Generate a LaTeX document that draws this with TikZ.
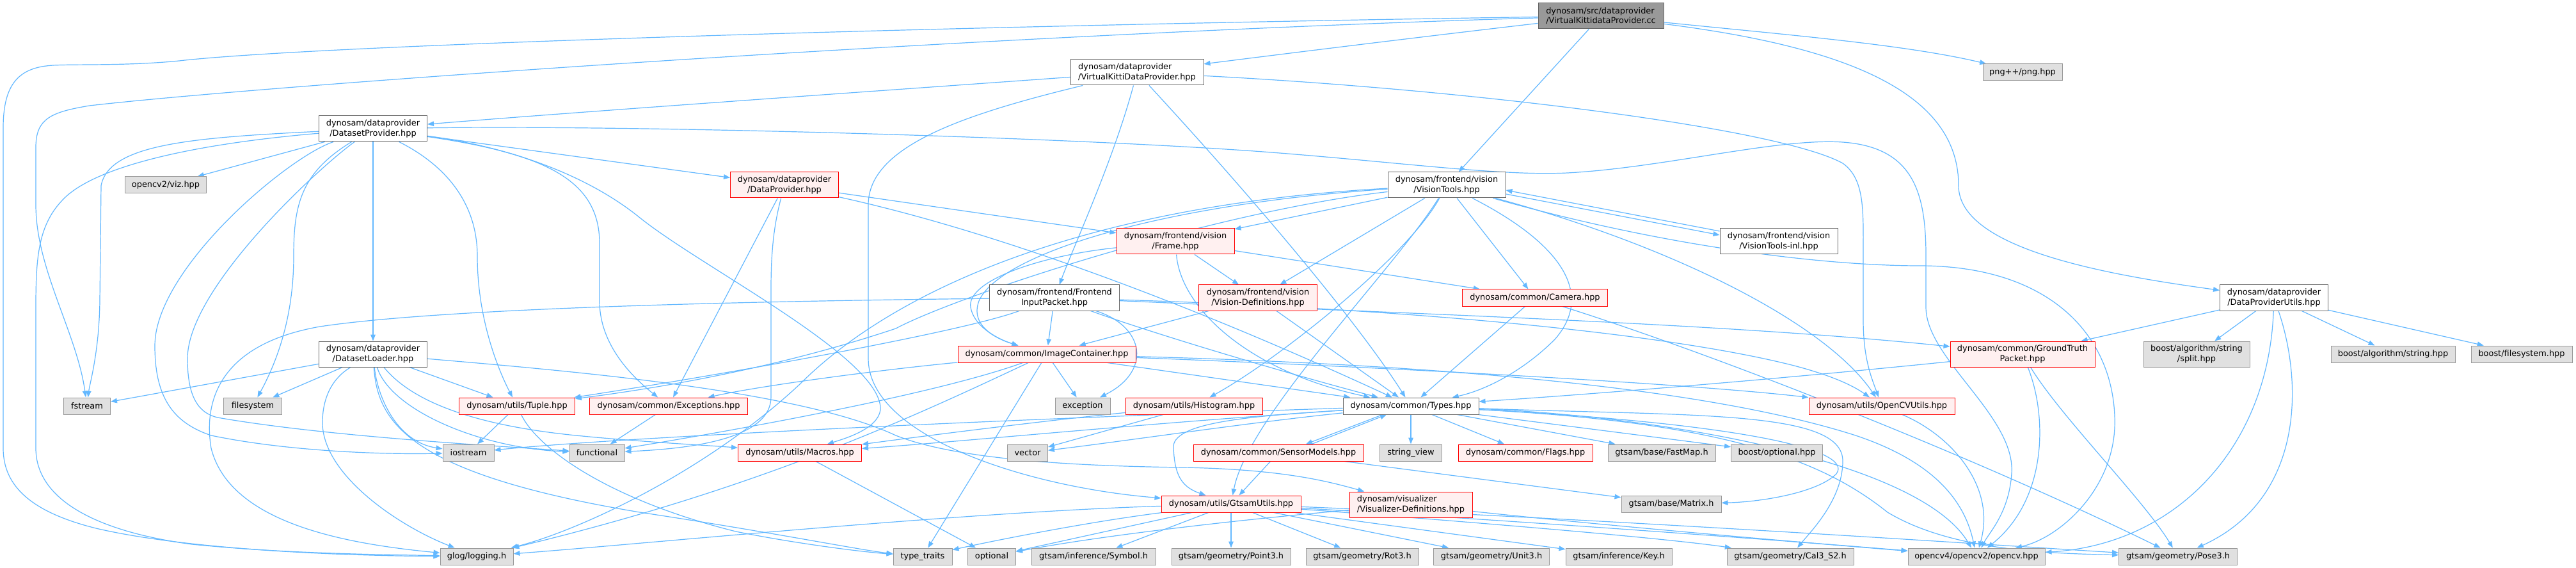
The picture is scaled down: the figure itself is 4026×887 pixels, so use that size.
\documentclass[tikz,border=0pt]{standalone}
\usepackage{fontspec}
\setmainfont{DejaVu Sans}
\usetikzlibrary{arrows.meta}
\definecolor{edgec}{HTML}{63B8FF}
\definecolor{redfill}{HTML}{FFF0F0}
\definecolor{grayfill}{HTML}{E0E0E0}
\definecolor{grayline}{HTML}{999999}
\definecolor{darkline}{HTML}{666666}
\definecolor{rootfill}{HTML}{999999}
\pgfdeclarelayer{back}
\pgfdeclarelayer{edges}
\pgfsetlayers{back,edges,main}
\begin{document}
\begin{tikzpicture}[x=0.5pt,y=-0.5pt,
  base/.style={rectangle, inner sep=0pt, font=\fontsize{6.45}{7.65}\selectfont, align=center, minimum height=13pt, line width=0.5pt},
  two/.style={minimum height=20pt},
  wn/.style={base, draw=darkline, fill=white},
  rn/.style={base, draw=red, fill=redfill},
  gn/.style={base, draw=grayline, fill=grayfill},
  rootn/.style={base, draw=darkline, fill=rootfill},
  ed/.style={draw=edgec, line width=0.6pt, -{Triangle[length=5pt,width=3.8pt]}}
]
\begin{pgfonlayer}{back}
\fill[white] (0,0) rectangle (4026,887);
\end{pgfonlayer}
\useasboundingbox (0,0) rectangle (4026,887);

\node[rootn,two,minimum width=98pt,align=left] (root) at (2502,25) {dynosam/src/dataprovider\\/VirtualKittidataProvider.cc};
\node[wn,two,minimum width=104pt,align=left] (VKDP) at (1777,113) {dynosam/dataprovider\\/VirtualKittiDataProvider.hpp};
\node[wn,two,minimum width=84.5pt] (DP) at (583,201) {dynosam/dataprovider\\/DatasetProvider.hpp};
\node[gn,minimum width=63.5pt] (viz) at (259,289) {opencv2/viz.hpp};
\node[rn,two,minimum width=84.5pt] (DPr) at (1226,289) {dynosam/dataprovider\\/DataProvider.hpp};
\node[wn,two,minimum width=92pt] (VT) at (2261,289) {dynosam/frontend/vision\\/VisionTools.hpp};
\node[wn,two,minimum width=92pt] (VTinl) at (2780,377) {dynosam/frontend/vision\\/VisionTools-inl.hpp};
\node[rn,two,minimum width=92pt] (Frame) at (1837,377) {dynosam/frontend/vision\\/Frame.hpp};
\node[gn,minimum width=62pt] (png) at (3161,113) {png++/png.hpp};
\node[wn,two,minimum width=84.5pt] (DPU) at (3554,465) {dynosam/dataprovider\\/DataProviderUtils.hpp};
\node[wn,two,minimum width=101.5pt] (FIP) at (1648,465) {dynosam/frontend/Frontend\\InputPacket.hpp};
\node[rn,two,minimum width=92.5pt] (VisDef) at (1966,465) {dynosam/frontend/vision\\/Vision-Definitions.hpp};
\node[rn,minimum width=113.5pt] (Camera) at (2399,465) {dynosam/common/Camera.hpp};
\node[wn,two,minimum width=84.5pt] (DL) at (583,553) {dynosam/dataprovider\\/DatasetLoader.hpp};
\node[rn,minimum width=139pt] (IC) at (1636,553) {dynosam/common/ImageContainer.hpp};
\node[rn,two,minimum width=113pt] (GTP) at (3161,553) {dynosam/common/GroundTruth\\Packet.hpp};
\node[gn,two,minimum width=83pt] (split) at (3433,553) {boost/algorithm/string\\/split.hpp};
\node[gn,minimum width=97pt] (balgo) at (3740,553) {boost/algorithm/string.hpp};
\node[gn,minimum width=79pt] (bfs) at (3941,553) {boost/filesystem.hpp};
\node[gn,minimum width=36.5pt] (fstream) at (136,634) {fstream};
\node[gn,minimum width=45.5pt] (filesystem) at (395,634) {filesystem};
\node[rn,minimum width=90.5pt] (Tuple) at (808,634) {dynosam/utils/Tuple.hpp};
\node[rn,minimum width=123.5pt] (Exc) at (1045,634) {dynosam/common/Exceptions.hpp};
\node[gn,minimum width=43pt] (exception) at (1692,634) {exception};
\node[rn,minimum width=107pt] (Hist) at (1866,634) {dynosam/utils/Histogram.hpp};
\node[wn,minimum width=106pt] (Types) at (2205,634) {dynosam/common/Types.hpp};
\node[rn,minimum width=114pt] (OCVU) at (2941,634) {dynosam/utils/OpenCVUtils.hpp};
\node[gn,minimum width=40pt] (iostream) at (732,707) {iostream};
\node[gn,minimum width=43pt] (functional) at (933,707) {functional};
\node[rn,minimum width=96.5pt] (Macros) at (1250,707) {dynosam/utils/Macros.hpp};
\node[gn,minimum width=31.5pt] (vector) at (1606,707) {vector};
\node[rn,minimum width=133pt] (Sensor) at (1998,707) {dynosam/common/SensorModels.hpp};
\node[gn,minimum width=48.5pt] (strview) at (2205,707) {string\_view};
\node[rn,minimum width=105pt] (Flags) at (2384,707) {dynosam/common/Flags.hpp};
\node[gn,minimum width=84pt] (FastMap) at (2597,707) {gtsam/base/FastMap.h};
\node[gn,minimum width=71.5pt] (bopt) at (2777,707) {boost/optional.hpp};
\node[rn,minimum width=109pt] (GU) at (1924,787) {dynosam/utils/GtsamUtils.hpp};
\node[rn,two,minimum width=96pt,align=left] (VizDef) at (2205,788) {dynosam/visualizer\\/Visualizer-Definitions.hpp};
\node[gn,minimum width=78pt] (Matrix) at (2612,787) {gtsam/base/Matrix.h};
\node[gn,minimum width=57pt] (glog) at (745,869) {glog/logging.h};
\node[gn,minimum width=46pt] (tt) at (1442,869) {type\_traits};
\node[gn,minimum width=37.5pt] (optional) at (1550,869) {optional};
\node[gn,minimum width=97pt] (Symbol) at (1709,869) {gtsam/inference/Symbol.h};
\node[gn,minimum width=93pt] (Point3) at (1924,869) {gtsam/geometry/Point3.h};
\node[gn,minimum width=88pt] (Rot3) at (2129,869) {gtsam/geometry/Rot3.h};
\node[gn,minimum width=90.5pt] (Unit3) at (2331,869) {gtsam/geometry/Unit3.h};
\node[gn,minimum width=83pt] (Key) at (2530,869) {gtsam/inference/Key.h};
\node[gn,minimum width=99pt] (Cal3) at (2798,869) {gtsam/geometry/Cal3\_S2.h};
\node[gn,minimum width=107pt] (opencv) at (3089,869) {opencv4/opencv2/opencv.hpp};
\node[gn,minimum width=92.5pt] (Pose3) at (3404,869) {gtsam/geometry/Pose3.h};

\begin{pgfonlayer}{edges}
% root
\draw[ed] (root) .. controls (1500,40) and (500,70) .. (280,95) .. controls (200,103) and (120,100) .. (83,102) .. controls (30,105) and (5,130) .. (5,200) -- (5,700) .. controls (5,760) and (50,800) .. (150,825) .. controls (300,860) and (550,868) .. (glog);
\draw[ed] (root) .. controls (1500,55) and (400,135) .. (140,165) .. controls (80,175) and (56,185) .. (56,230) -- (56,320) .. controls (56,420) and (120,520) .. (fstream);
\draw[ed] (root) .. controls (2200,60) and (2000,85) .. (VKDP);
\draw[ed] (root) -- (VT);
\draw[ed] (root) .. controls (2800,55) and (2980,70) .. (png);
\draw[ed] (root) .. controls (2900,75) and (3061,150) .. (3061,290) .. controls (3061,390) and (3300,430) .. (DPU);
% VKDP
\draw[ed] (VKDP) .. controls (1400,140) and (900,175) .. (DP);
\draw[ed] (VKDP) .. controls (1740,250) and (1680,380) .. (FIP);
\draw[ed] (VKDP) .. controls (1950,300) and (2120,500) .. (Types);
\draw[ed] (VKDP) .. controls (2300,140) and (2780,200) .. (2880,255) .. controls (2915,280) and (2912,330) .. (2912,400) -- (2912,500) .. controls (2912,560) and (2925,590) .. (OCVU);
\draw[ed] (VKDP) .. controls (1500,180) and (1357,230) .. (1357,320) -- (1357,560) .. controls (1357,680) and (1600,760) .. (GU);
% DatasetProvider
\draw[ed] (DP) -- (viz);
\draw[ed] (DP) .. controls (300,215) and (170,225) .. (158,290) -- (156,470) .. controls (155,550) and (140,600) .. (fstream);
\draw[ed] (DP) .. controls (300,225) and (150,260) .. (100,310) .. controls (60,350) and (56,400) .. (56,480) -- (56,700) .. controls (56,780) and (150,830) .. (300,850) .. controls (450,865) and (600,866) .. (glog);
\draw[ed] (DP) .. controls (450,245) and (242,420) .. (242,540) .. controls (242,620) and (270,660) .. (330,680) .. controls (450,705) and (600,710) .. (iostream);
\draw[ed] (DP) .. controls (500,260) and (293,450) .. (293,560) .. controls (293,620) and (310,645) .. (340,652) .. controls (500,680) and (750,695) .. (functional);
\draw[ed] (DP) .. controls (470,270) and (459,320) .. (459,400) .. controls (459,500) and (430,570) .. (filesystem);
\draw[ed] (DP) -- (DL);
\draw[ed] (DP) .. controls (700,260) and (746,320) .. (746,400) .. controls (746,500) and (780,580) .. (Tuple);
\draw[ed] (DP) -- (DPr);
\draw[ed] (DP) .. controls (1000,195) and (1700,215) .. (2000,239) .. controls (2200,255) and (2350,275) .. (2450,270) .. controls (2600,262) and (2780,215) .. (2880,222) .. controls (2990,230) and (3010,300) .. (3010,400) -- (3010,480) .. controls (3010,560) and (3150,650) .. (3144,739) .. controls (3140,800) and (3110,830) .. (opencv);
\draw[ed] (DP) .. controls (850,240) and (937,280) .. (937,380) -- (937,470) .. controls (937,540) and (990,590) .. (Exc);
\draw[ed] (DP) .. controls (800,230) and (920,275) .. (1000,340) .. controls (1100,420) and (1380,560) .. (1376,640) .. controls (1372,670) and (1320,685) .. (Macros);
% DataProvider
\draw[ed] (DPr) -- (Exc);
\draw[ed] (DPr) .. controls (1210,350) and (1205,390) .. (1205,450) -- (1205,620) .. controls (1205,680) and (1100,700) .. (functional);
\draw[ed] (DPr) -- (Frame);
\draw[ed] (DPr) .. controls (1550,360) and (1850,470) .. (Types);
% DatasetLoader
\draw[ed] (DL) -- (fstream);
\draw[ed] (DL) -- (filesystem);
\draw[ed] (DL) .. controls (520,590) and (504,620) .. (504,660) .. controls (504,740) and (620,820) .. (glog);
\draw[ed] (DL) .. controls (590,620) and (620,690) .. (iostream);
\draw[ed] (DL) .. controls (610,640) and (750,700) .. (functional);
\draw[ed] (DL) .. controls (630,610) and (700,660) .. (900,680) .. controls (1000,690) and (1100,695) .. (Macros);
\draw[ed] (DL) -- (Tuple);
\draw[ed] (DL) .. controls (900,580) and (1250,610) .. (1400,680) .. controls (1500,720) and (1700,728) .. (1850,730) .. controls (2000,733) and (2070,750) .. (VizDef);
\draw[ed] (DL) .. controls (590,660) and (640,740) .. (1000,800) .. controls (1200,830) and (1350,860) .. (tt);
% Tuple, Exceptions, Macros
\draw[ed] (Tuple) -- (iostream);
\draw[ed] (Tuple) .. controls (840,700) and (950,780) .. (1150,830) .. controls (1250,850) and (1350,862) .. (tt);
\draw[ed] (Exc) -- (functional);
\draw[ed] (Macros) -- (optional);
% Frame
\draw[ed] (Frame) -- (Camera);
\draw[ed] (Frame) -- (VisDef);
\draw[ed] (Frame) .. controls (1620,400) and (1510,440) .. (1517,480) .. controls (1522,510) and (1560,530) .. (IC);
\draw[ed] (Frame) .. controls (1845,480) and (1950,580) .. (Types);
% FrontendInputPacket
\draw[ed] (FIP) -- (IC);
\draw[ed] (FIP) .. controls (1790,510) and (1800,580) .. (exception);
\draw[ed] (FIP) .. controls (1800,520) and (2000,580) .. (Types);
\draw[ed] (FIP) .. controls (1200,470) and (700,480) .. (500,510) .. controls (330,540) and (320,640) .. (330,700) .. controls (360,820) and (550,850) .. (glog);
\draw[ed] (FIP) .. controls (1500,520) and (1100,590) .. (Tuple);
\draw[ed] (FIP) .. controls (2200,490) and (2700,505) .. (GTP);
\draw[ed] (FIP) .. controls (2200,482) and (2600,520) .. (2800,570) .. controls (2870,588) and (2900,605) .. (OCVU);
% ImageContainer
\draw[ed] (IC) -- (exception);
\draw[ed] (IC) -- (Types);
\draw[ed] (IC) -- (tt);
\draw[ed] (IC) .. controls (1400,575) and (1200,600) .. (Exc);
\draw[ed] (IC) .. controls (1450,640) and (1200,760) .. (glog);
\draw[ed] (IC) .. controls (2200,568) and (2650,600) .. (2900,680) .. controls (3020,720) and (3070,780) .. (opencv);
\draw[ed] (IC) .. controls (2200,575) and (2650,600) .. (OCVU);
\draw[ed] (IC) .. controls (1450,620) and (1100,680) .. (functional);
% Vision-Definitions, Histogram
\draw[ed] (VisDef) -- (IC);
\draw[ed] (VisDef) -- (Types);
\draw[ed] (Hist) -- (vector);
\draw[ed] (Hist) .. controls (1650,655) and (1450,680) .. (Macros);
% Types
\draw[ed] ([xshift=-22pt]Types.south) -- ([xshift=21.5pt]Sensor.north);
\draw[ed] ([xshift=26pt]Sensor.north) -- ([xshift=-19pt]Types.south);
\draw[ed] (Types) -- (strview);
\draw[ed] (Types) -- (Flags);
\draw[ed] (Types) -- (FastMap);
\draw[ed] (Types) -- (bopt);
\draw[ed] (Types) .. controls (1950,660) and (1750,690) .. (vector);
\draw[ed] (Types) .. controls (1800,660) and (1500,690) .. (Macros);
\draw[ed] (Types) .. controls (1700,650) and (1000,680) .. (iostream);
\draw[ed] (Types) .. controls (1950,650) and (1830,660) .. (1834,700) .. controls (1836,740) and (1845,760) .. (GU);
\draw[ed] (Types) .. controls (2700,660) and (2900,700) .. (2870,740) .. controls (2840,770) and (2750,784) .. (Matrix);
\draw[ed] (Types) .. controls (2600,650) and (3000,720) .. (opencv);
\draw[ed] (Types) .. controls (2700,660) and (2850,720) .. (2950,800) .. controls (3050,860) and (3200,864) .. (Pose3);
\draw[ed] (Types) .. controls (2650,650) and (2880,640) .. (2880,720) .. controls (2880,780) and (2830,830) .. (Cal3);
% SensorModels
\draw[ed] (Sensor) -- (GU);
\draw[ed] (Sensor) -- (Matrix);
% GtsamUtils
\draw[ed] (GU) .. controls (1700,815) and (1550,845) .. (tt);
\draw[ed] (GU) -- (optional);
\draw[ed] (GU) -- (Symbol);
\draw[ed] (GU) -- (Point3);
\draw[ed] (GU) -- (Rot3);
\draw[ed] (GU) -- (Unit3);
\draw[ed] (GU) -- (Key);
\draw[ed] (GU) .. controls (2300,815) and (2600,840) .. (Cal3);
\draw[ed] (GU) .. controls (2400,815) and (2800,845) .. (opencv);
\draw[ed] (GU) .. controls (2500,810) and (3100,850) .. (Pose3);
\draw[ed] (GU) .. controls (1500,800) and (1000,850) .. (glog);
% Visualizer-Definitions
\draw[ed] (VizDef) .. controls (1900,815) and (1700,840) .. (optional);
\draw[ed] (VizDef) .. controls (2500,820) and (2850,850) .. (opencv);
% Camera
\draw[ed] (Camera) -- (Types);
\draw[ed] (Camera) .. controls (2700,560) and (3100,720) .. (Pose3);
% OpenCVUtils, GroundTruthPacket
\draw[ed] (OCVU) .. controls (3050,680) and (3120,760) .. (opencv);
\draw[ed] (GTP) .. controls (3200,650) and (3200,780) .. (opencv);
\draw[ed] (GTP) .. controls (3220,650) and (3350,780) .. (Pose3);
\draw[ed] (GTP) .. controls (2800,590) and (2500,615) .. (Types);
% DataProviderUtils
\draw[ed] (DPU) -- (GTP);
\draw[ed] (DPU) -- (split);
\draw[ed] (DPU) -- (balgo);
\draw[ed] (DPU) -- (bfs);
\draw[ed] (DPU) .. controls (3545,700) and (3400,850) .. (opencv);
\draw[ed] (DPU) .. controls (3600,600) and (3600,780) .. (Pose3);
% VisionTools
\draw[ed] (VT) -- (Frame);
\draw[ed] (VT) -- (VisDef);
\draw[ed] (VT) -- (Camera);
\draw[ed] (VT) .. controls (2420,370) and (2500,450) .. (2430,530) .. controls (2380,580) and (2320,610) .. (Types);
\draw[ed] (VT) .. controls (1800,320) and (1560,400) .. (1530,470) .. controls (1515,510) and (1560,530) .. (IC);
\draw[ed] (VT) .. controls (1700,320) and (1400,450) .. (1250,600) .. controls (1100,740) and (900,830) .. (glog);
\draw[ed] (VT) .. controls (2200,400) and (2000,560) .. (Hist);
\draw[ed] (VT) .. controls (2600,380) and (2850,500) .. (OCVU);
\draw[ed] ([yshift=-7pt]VT.east) -- ([yshift=5pt]VTinl.west);
\draw[ed] ([yshift=8pt]VTinl.west) -- ([yshift=-4pt]VT.east);
\draw[ed] (VT) .. controls (2600,385) and (2850,415) .. (3000,415) .. controls (3200,415) and (3300,520) .. (3305,650) .. controls (3310,760) and (3220,840) .. (opencv);
\draw[ed] (VT) .. controls (2180,420) and (1950,650) .. (GU);
\draw[ed] (VT) .. controls (1900,330) and (1500,460) .. (1400,513) .. controls (1200,580) and (1000,610) .. (Tuple);
\end{pgfonlayer}
\end{tikzpicture}
\end{document}
